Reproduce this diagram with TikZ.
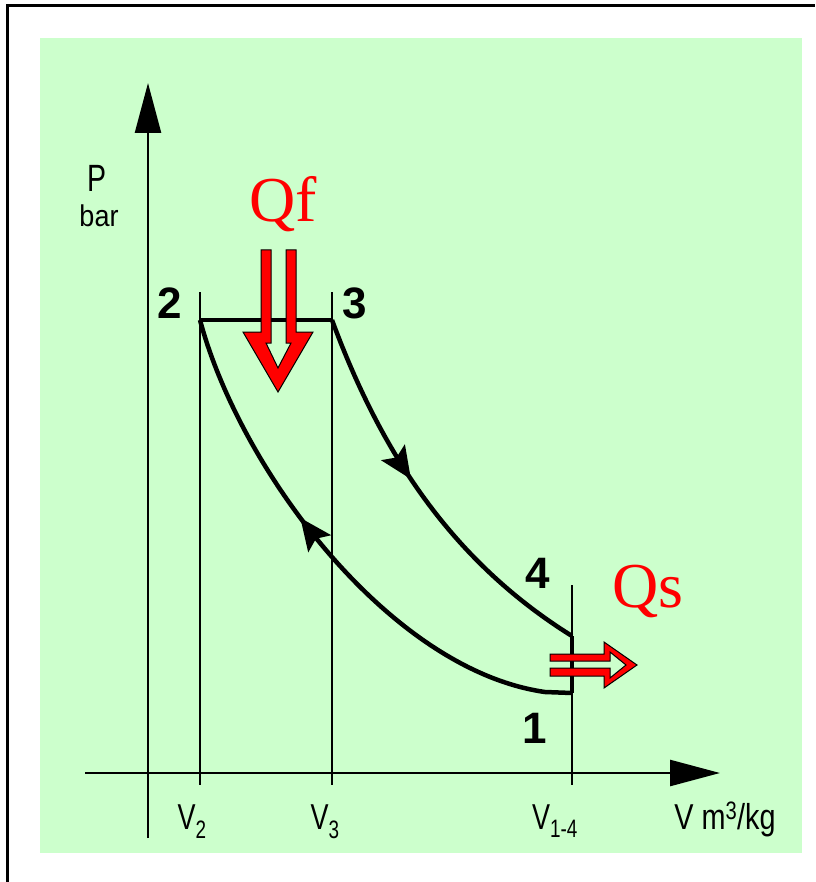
\documentclass[tikz,border=0pt]{standalone}
\usepackage{fontspec}
\usepackage{graphicx}
\setmainfont{Liberation Sans}
\newfontfamily\qfont{Liberation Serif}
\usetikzlibrary{arrows.meta,decorations.markings}
\definecolor{bgreen}{HTML}{CCFFCC}
\definecolor{qred}{HTML}{FF0000}
\newcommand\narrowtxt[2]{\scalebox{#1}[1]{#2}}
\tikzset{
  thinline/.style={line width=2pt},
  axisline/.style={line width=2.5pt, -{Triangle[length=50pt,width=26pt]}},
  procline/.style={line width=4.5pt, line join=round},
  numlbl/.style={font=\fontsize{44}{44}\selectfont\bfseries, inner sep=0pt, anchor=base},
  qlbl/.style={font=\qfont\fontsize{64}{64}\selectfont, text=qred, inner sep=0pt, anchor=base},
  vlbl/.style={font=\fontsize{36}{36}\selectfont, inner sep=0pt, anchor=base},
  heatarrow/.style={fill=qred, draw=black, line width=1pt, line join=miter},
  markat/.style={postaction={decorate, decoration={markings,
      mark=at position #1 with {\arrow{Stealth[length=32pt,width=28pt,inset=6pt]}}}}}
}
\begin{document}
\begin{tikzpicture}[x=1pt,y=-1pt]
\useasboundingbox (0,0) rectangle (815,882);
\fill[white] (0,0) rectangle (815,882);
\fill[bgreen] (40,38) rectangle (802,853);
\draw[line width=3pt] (7,882) -- (7,6) -- (815,6);

% coordinates
\coordinate (p2) at (200,320);
\coordinate (p3) at (332,320);
\coordinate (p4) at (572,636);
\coordinate (p1) at (572,693);
\coordinate (v2top) at (200,292);
\coordinate (v2bot) at (200,785);
\coordinate (v3top) at (332,292);
\coordinate (v3bot) at (332,785);
\coordinate (v4top) at (572,585);
\coordinate (v4bot) at (572,785);
\coordinate (yaxb) at (148,838);
\coordinate (yaxt) at (148,83);
\coordinate (xaxl) at (85,773);
\coordinate (xaxr) at (720,773);
\coordinate (p1a) at (545,692);

% thin reference lines
\draw[thinline] (v2top) -- (v2bot);
\draw[thinline] (v3top) -- (v3bot);
\draw[thinline] (v4top) -- (v4bot);

% axes
\draw[axisline] (yaxb) -- (yaxt);
\draw[axisline] (xaxl) -- (xaxr);

% cycle
\draw[line width=3.5pt] (p2) -- (p3);
\draw[procline, markat=0.44] (p3) .. controls (380,450) and (450,560) .. (p4);
\draw[line width=3.5pt] (p4) -- (p1);
\draw[procline, markat=0.6] (p1) -- (p1a) .. controls (390,670) and (240,470) .. (p2);

% heat arrows
\draw[heatarrow] (261,250) -- (261,332) -- (243,332) -- (278,392) -- (313,332) -- (296,332)
  -- (296,250) -- (286,250) -- (286,343) -- (291,343) -- (278,368) -- (266,343)
  -- (271,343) -- (271,250) -- cycle;
\draw[heatarrow] (550,654) -- (604,654) -- (604,642) -- (637,665) -- (604,688) -- (604,676)
  -- (550,676) -- (550,668) -- (610,668) -- (610,678) -- (626,665) -- (610,652)
  -- (610,661) -- (550,661) -- cycle;

% labels
\node[qlbl] (qf) at (283,222) {Qf};
\node[qlbl] (qs) at (648,607) {Qs};
\node[numlbl] (n2) at (170,318) {2};
\node[numlbl] (n3) at (355,318) {3};
\node[numlbl] (n4) at (538,588) {4};
\node[numlbl] (n1) at (535,743) {1};
\node[inner sep=0pt, anchor=base, font=\fontsize{38}{38}\selectfont] (plbl) at (97,192) {\narrowtxt{0.75}{P}};
\node[inner sep=0pt, anchor=base, font=\fontsize{30}{30}\selectfont] (barlbl) at (99,227) {\narrowtxt{0.9}{bar}};
\node[vlbl] (lv2) at (192,829) {\narrowtxt{0.75}{V\textsubscript{2}}};
\node[vlbl] (lv3) at (325,829) {\narrowtxt{0.75}{V\textsubscript{3}}};
\node[vlbl] (lv14) at (555,829) {\narrowtxt{0.75}{V\textsubscript{1-4}}};
\node[vlbl] (lvu) at (725,829) {\narrowtxt{0.8}{V m\textsuperscript{3}/kg}};
\end{tikzpicture}
\end{document}
